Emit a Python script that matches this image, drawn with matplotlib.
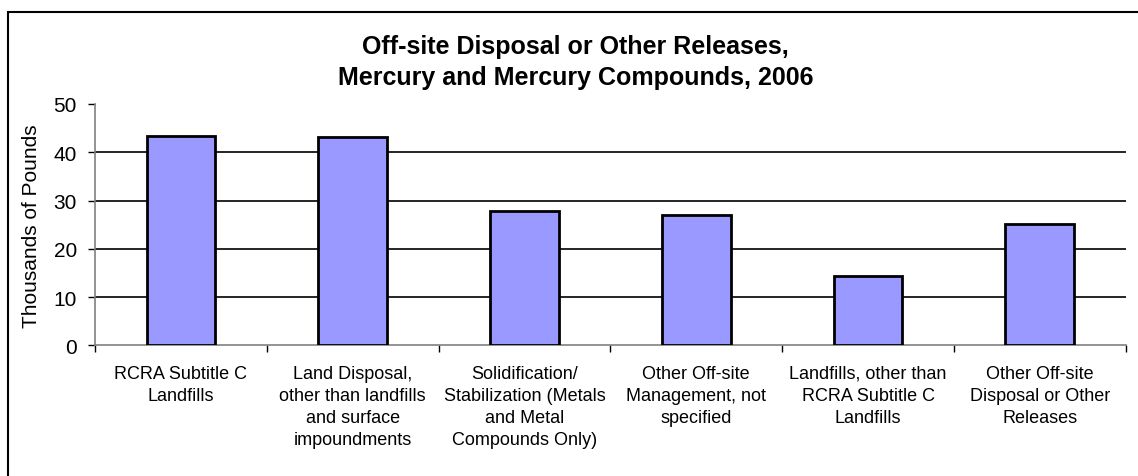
import matplotlib
matplotlib.use("Agg")
import matplotlib.pyplot as plt
from matplotlib.patches import Rectangle

# data (thousands of pounds)
categories = [
    "RCRA Subtitle C\nLandfills",
    "Land Disposal,\nother than landfills\nand surface\nimpoundments",
    "Solidification/\nStabilization (Metals\nand Metal\nCompounds Only)",
    "Other Off-site\nManagement, not\nspecified",
    "Landfills, other than\nRCRA Subtitle C\nLandfills",
    "Other Off-site\nDisposal or Other\nReleases",
]
values = [43.4, 43.1, 27.8, 27.1, 14.4, 25.2]
y_ticks = [0, 10, 20, 30, 40, 50]
title_lines = ["Off-site Disposal or Other Releases,",
               "Mercury and Mercury Compounds, 2006"]

plt.rcParams["font.family"] = ["Liberation Sans", "DejaVu Sans"]

fig = plt.figure(figsize=(11.38, 4.77), dpi=100)
ax = fig.add_axes([0.0835, 0.2736, 0.9057, 0.5063])

# outer chart frame (runs off the right and bottom edges)
fig.patches.append(Rectangle((8 / 1138, -0.05), 1.1, 1.05 - 13 / 477,
                             transform=fig.transFigure, fill=False,
                             edgecolor="black", linewidth=1.5))

x = list(range(len(values)))
ax.bar(x, values, width=0.40, color="#9999FF", edgecolor="black",
       linewidth=2, zorder=3)

ax.set_xlim(-0.5, len(values) - 0.5)
ax.set_ylim(0, 50)
ax.set_yticks(y_ticks)
ax.set_yticklabels([str(t) for t in y_ticks], fontsize=15)
for t in y_ticks[1:-1]:
    ax.axhline(t, color="black", linewidth=1.2, zorder=1)

# category boundary ticks on x axis
ax.set_xticks([i - 0.5 for i in range(len(values) + 1)])
ax.set_xticklabels([])
ax.tick_params(axis="x", length=5, width=1, colors="black", direction="out")
ax.tick_params(axis="y", length=5, width=1, colors="black", pad=8)
for i, lab in enumerate(categories):
    ax.text(i, -4.0, lab, ha="center", va="top", fontsize=13,
            linespacing=1.4)

for side in ["top", "right"]:
    ax.spines[side].set_visible(False)
ax.spines["left"].set_color("#808080")
ax.spines["bottom"].set_color("#808080")
ax.spines["left"].set_linewidth(1.2)
ax.spines["bottom"].set_linewidth(1.2)

ax.set_ylabel("Thousands of Pounds", fontsize=15, labelpad=9)

fig.text(0.506, 1 - 54 / 477, title_lines[0], ha="center", va="baseline",
         fontsize=18, fontweight="bold")
fig.text(0.506, 1 - 85 / 477, title_lines[1], ha="center", va="baseline",
         fontsize=18, fontweight="bold")

fig.savefig("out.png", dpi=100)
